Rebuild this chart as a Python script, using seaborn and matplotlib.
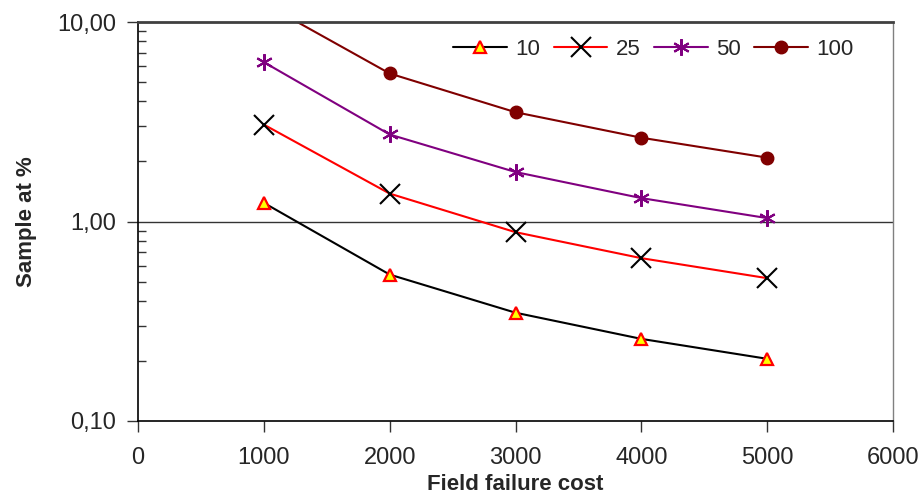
import matplotlib
matplotlib.use("Agg")
import matplotlib.pyplot as plt
import matplotlib.ticker as mticker
import seaborn as sns
import pandas as pd

# ---- data ----
cost = [1000, 2000, 3000, 4000, 5000]
s10 = [1.24, 0.542, 0.349, 0.258, 0.205]
s25 = [3.06, 1.38, 0.884, 0.655, 0.52]
s50 = [6.29, 2.73, 1.77, 1.31, 1.04]
s100 = [12.4, 5.52, 3.53, 2.63, 2.09]
series_names = ["10", "25", "50", "100"]
y_ticks = [0.1, 1, 10]
y_ticklabels = ["0,10", "1,00", "10,00"]
x_ticks = [0, 1000, 2000, 3000, 4000, 5000, 6000]
x_label = "Field failure cost"
y_label = "Sample at %"

sns.set_style("white")
plt.rcParams["font.family"] = ["Liberation Sans", "DejaVu Sans"]

fig = plt.figure(figsize=(9.22, 5.01), dpi=100)
ax = fig.add_axes([138 / 922, 1 - 421 / 501, (893 - 138) / 922, (421 - 22) / 501])

styles = [
    dict(color="black", marker="^", markerfacecolor="#FFFF00", markeredgecolor="#FF0000",
         markeredgewidth=1.6, markersize=9, linewidth=1.5),
    dict(color="#FF0000", marker="x", markeredgecolor="black",
         markeredgewidth=1.5, markersize=15, linewidth=1.5),
    dict(color="#800080", marker=(6, 2, 0), markeredgecolor="#800080",
         markeredgewidth=1.5, markersize=12, linewidth=1.5),
    dict(color="#800000", marker="o", markerfacecolor="#800000", markeredgecolor="#800000",
         markeredgewidth=1, markersize=9, linewidth=1.5),
]

for name, vals, st in zip(series_names, [s10, s25, s50, s100], styles):
    df = pd.DataFrame({"cost": cost, "val": vals})
    sns.lineplot(data=df, x="cost", y="val", ax=ax, label=name, **st)

ax.set_yscale("log")
ax.set_ylim(0.1, 10)
ax.set_xlim(0, 6000)
ax.set_yticks(y_ticks)
ax.yaxis.set_major_formatter(mticker.FixedFormatter(y_ticklabels))
ax.yaxis.set_minor_locator(mticker.LogLocator(base=10, subs=range(2, 10)))
ax.yaxis.set_minor_formatter(mticker.NullFormatter())
ax.set_xticks(x_ticks)
ax.set_xticklabels([str(v) for v in x_ticks])

ax.axhline(1, color="#333333", linewidth=1.0, zorder=1)

ax.tick_params(axis="y", which="major", direction="out", length=8, width=1, color="#333333",
               labelsize=17, pad=8, left=True)
ax.tick_params(axis="y", which="minor", direction="in", length=6, width=1, color="#333333", left=True)
ax.tick_params(axis="x", which="major", direction="out", length=8, width=1, color="#333333",
               labelsize=17, pad=11, bottom=True)

for side in ["left", "bottom"]:
    ax.spines[side].set_color("black")
    ax.spines[side].set_linewidth(1.2)
ax.spines["top"].set_color("#404040")
ax.spines["top"].set_linewidth(2)
ax.spines["right"].set_color("#808080")
ax.spines["right"].set_linewidth(1)

ax.set_xlabel(x_label, fontsize=16, fontweight="bold", labelpad=3)
ax.set_ylabel(y_label, fontsize=16, fontweight="bold", labelpad=14)

ax.legend(loc="upper right", bbox_to_anchor=(0.963, 0.985), ncol=4, frameon=False,
          fontsize=16, handlelength=2.4, columnspacing=0.6, handletextpad=0.4, borderpad=0)

fig.savefig("out.png", dpi=100)
